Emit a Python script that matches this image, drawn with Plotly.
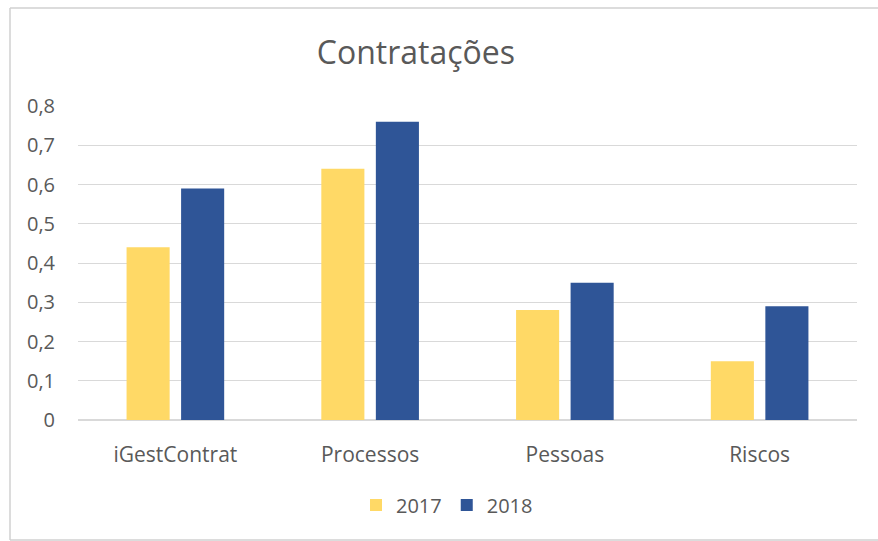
import plotly.graph_objects as go

categories = ["iGestContrat", "Processos", "Pessoas", "Riscos"]
series_names = ["2017", "2018"]
values_2017 = [0.44, 0.64, 0.28, 0.15]
values_2018 = [0.59, 0.76, 0.35, 0.29]
tick_vals = [0, 0.1, 0.2, 0.3, 0.4, 0.5, 0.6, 0.7, 0.8]
tick_text = ["0", "0,1", "0,2", "0,3", "0,4", "0,5", "0,6", "0,7", "0,8"]

colors = ["#FFD966", "#2F5597"]
FONT = "Open Sans"
TXT = "#595959"

fig = go.Figure()
for name, vals, c in zip(series_names, [values_2017, values_2018], colors):
    fig.add_trace(go.Bar(x=categories, y=vals, name=name, marker=dict(color=c, line=dict(width=0))))

W, H = 878, 541
L, R, T, B = 78, 21, 106, 121
pw = W - L - R
ph = H - T - B

def px_x(x):
    return (x - L) / pw

def px_y(y):
    return (H - B - y) / ph

border = dict(color="#D0D0D0", width=1.5)
for x0, y0, x1, y1 in [(10, 8, 878, 8), (10, 8, 10, 540), (10, 540, 878, 540)]:
    fig.add_shape(type="line", xref="paper", yref="paper",
                  x0=px_x(x0), x1=px_x(x1), y0=px_y(y0), y1=px_y(y1),
                  line=border, layer="below")

fig.update_layout(
    width=W, height=H,
    margin=dict(l=L, r=R, t=T, b=B, autoexpand=False),
    paper_bgcolor="white", plot_bgcolor="white",
    font=dict(family=FONT, color=TXT, size=20),
    title=dict(text="Contratações", x=px_x(447), xanchor="center", y=1 - 53 / H, yanchor="middle",
               font=dict(family=FONT, size=32, color=TXT)),
    barmode="group", bargap=0.44, bargroupgap=0.21,
    showlegend=True,
    legend=dict(orientation="h", x=px_x(447), xanchor="center", y=px_y(505), yanchor="middle",
                font=dict(size=20, color=TXT), itemwidth=30, traceorder="normal"),
    xaxis=dict(showgrid=False, showline=False, ticks="outside", ticklen=0,
               ticklabelstandoff=16, tickfont=dict(size=21, color=TXT)),
    yaxis=dict(range=[0, 0.8], tickvals=tick_vals, ticktext=tick_text, showgrid=True,
               gridcolor="#D9D9D9", gridwidth=1, zeroline=True, zerolinecolor="#D9D9D9",
               showline=False, ticklabelstandoff=22, tickfont=dict(size=20, color=TXT)),
)

fig.write_html("out.html", config={"displayModeBar": False},
               post_script="document.body.style.margin='0';document.body.style.padding='0';")
